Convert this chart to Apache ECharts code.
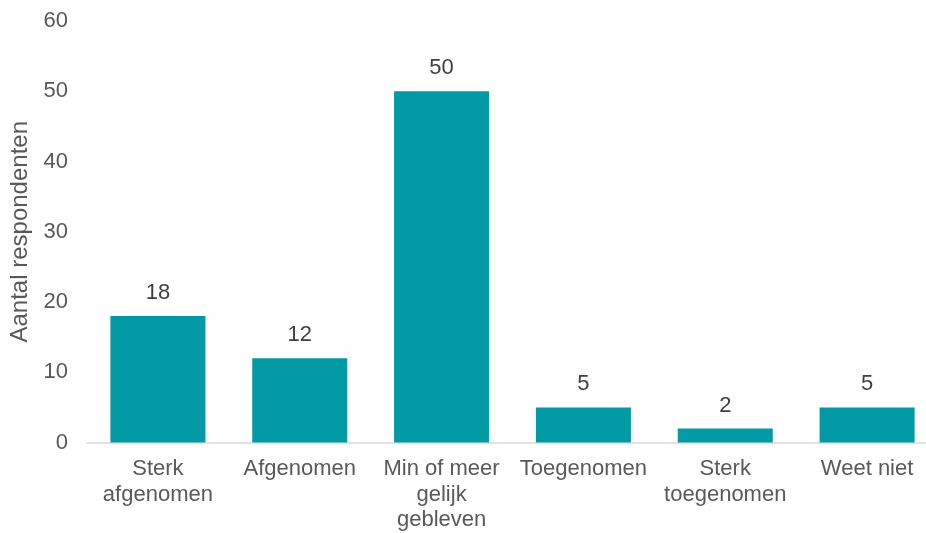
<!DOCTYPE html>
<html>
<head>
<meta charset="utf-8">
<script src="https://cdn.jsdelivr.net/npm/echarts@6/dist/echarts.min.js"></script>
<style>html,body{margin:0;padding:0;background:#fff;overflow:hidden}#c{width:940px;height:533px}</style>
</head>
<body>
<div id="c"></div>
<script>
const categories = ["Sterk\nafgenomen", "Afgenomen", "Min of meer\ngelijk\ngebleven", "Toegenomen", "Sterk\ntoegenomen", "Weet niet"];
const values = [18, 12, 50, 5, 2, 5];
const yTicks = { min: 0, max: 60, interval: 10 };
const yName = "Aantal respondenten";

const FONT = 'Liberation Sans, Arial, sans-serif';
const chart = echarts.init(document.getElementById('c'), null, { renderer: 'canvas' });
chart.setOption({
  animation: false,
  grid: { left: 87, top: 21, bottom: 90, right: 2, containLabel: false },
  xAxis: {
    type: 'category',
    data: categories,
    axisLine: { lineStyle: { color: '#d9d9d9', width: 1.5 } },
    axisTick: { show: false },
    axisLabel: { color: '#595959', fontSize: 22, fontFamily: FONT, margin: 14, lineHeight: 25.5, interval: 0 }
  },
  yAxis: {
    type: 'value',
    min: yTicks.min, max: yTicks.max, interval: yTicks.interval,
    name: yName, nameLocation: 'middle', nameGap: 55,
    nameTextStyle: { color: '#595959', fontSize: 24, fontFamily: FONT },
    axisLine: { show: false }, axisTick: { show: false },
    splitLine: { show: false },
    axisLabel: { color: '#595959', fontSize: 22, fontFamily: FONT, margin: 19 }
  },
  series: [{
    type: 'bar',
    data: values,
    barWidth: '67%',
    itemStyle: { color: '#019aa5' },
    label: { show: true, position: 'top', distance: 12, color: '#404040', fontSize: 22, fontFamily: FONT }
  }]
});
</script>
</body>
</html>
